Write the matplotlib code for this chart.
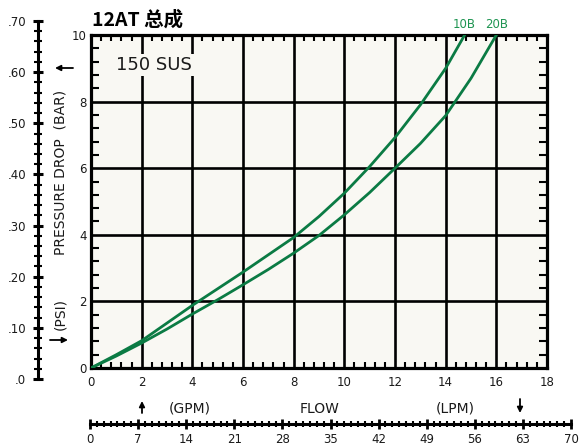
import matplotlib.pyplot as plt
import numpy as np
from matplotlib.ticker import MultipleLocator, FixedLocator, FixedFormatter

# curves: flow (GPM) vs pressure drop (BAR)
flow_10b = [0, 1, 2, 3, 4, 5, 6, 7, 8, 9, 10, 11, 12, 13, 14, 14.75]
drop_10b = [0, 0.4, 0.82, 1.35, 1.88, 2.38, 2.88, 3.4, 3.92, 4.55, 5.25, 6.05,
            6.92, 7.9, 9.0, 10]
flow_20b = [0, 1, 2, 3, 4, 5, 6, 7, 8, 9, 10, 11, 12, 13, 14, 15, 16]
drop_20b = [0, 0.36, 0.75, 1.17, 1.62, 2.05, 2.5, 2.96, 3.45, 3.98, 4.6, 5.27,
            6.0, 6.74, 7.58, 8.7, 10]
curve_names = ["10B", "20B"]

gpm_ticks = list(range(0, 19, 2))
bar_ticks = list(range(0, 11, 2))
psi_ticks = [0, 0.1, 0.2, 0.3, 0.4, 0.5, 0.6, 0.7]
psi_labels = [".0", ".10", ".20", ".30", ".40", ".50", ".60", ".70"]
lpm_ticks = list(range(0, 71, 7))

title = "12AT 总成"
oil = "150 SUS"

W, H = 579, 445
bg = "#f9f8f3"
green = "#0b7b44"
green_lbl = "#1f9552"
ink = "#1a1a1a"
plt.rcParams["font.family"] = ["DejaVu Sans"]


def box(l, t, r, b):
    return [l / W, 1 - b / H, (r - l) / W, (b - t) / H]


fig = plt.figure(figsize=(W / 100, H / 100), dpi=100)

# overlay in pixel coordinates for free-standing labels and arrows
ov = fig.add_axes([0, 0, 1, 1])
ov.set_xlim(0, W)
ov.set_ylim(H, 0)
ov.axis("off")

# -------------------------
# main chart
# -------------------------
ax = fig.add_axes(box(91, 35, 547, 368))
ax.set_facecolor(bg)
ax.set_xlim(gpm_ticks[0], gpm_ticks[-1])
ax.set_ylim(bar_ticks[0], bar_ticks[-1])

for v in gpm_ticks[1:-1]:
    ax.axvline(v, color="black", lw=1.9, zorder=1)
for v in bar_ticks[1:-1]:
    ax.axhline(v, color="black", lw=1.9, zorder=1)

for sp in ax.spines.values():
    sp.set_linewidth(2.3)

ax.xaxis.set_major_locator(FixedLocator(gpm_ticks))
ax.yaxis.set_major_locator(FixedLocator(bar_ticks))
ax.xaxis.set_minor_locator(MultipleLocator(0.4))
ax.yaxis.set_minor_locator(MultipleLocator(0.4))
ax.tick_params(which="major", length=0, labelsize=8.5, labelcolor=ink)
ax.tick_params(axis="x", which="major", pad=6)
ax.tick_params(axis="y", which="major", pad=3)
ax.tick_params(axis="x", which="minor", direction="in", top=True, bottom=True,
               length=4, width=1.5)
ax.tick_params(axis="y", which="minor", direction="in", left=True, right=True,
               length=6, width=1.5)

ax.plot(flow_10b, drop_10b, color=green, lw=2.0, zorder=4)
ax.plot(flow_20b, drop_20b, color=green, lw=2.0, zorder=4)

for name, fx, fy in [(curve_names[0], flow_10b, drop_10b),
                     (curve_names[1], flow_20b, drop_20b)]:
    ax.annotate(name, xy=(fx[-1], fy[-1]), xytext=(0, 3), textcoords="offset points",
                ha="center", va="bottom", color=green_lbl, fontsize=8.5,
                annotation_clip=False)

ax.text(1.0, 9.1, oil, ha="left", va="center", fontsize=13, color=ink, zorder=3,
        bbox=dict(facecolor=bg, edgecolor="none", pad=1.5))

# -------------------------
# PSI scale (left)
# -------------------------
ax_psi = fig.add_axes(box(38, 21, 60, 379))
ax_psi.set_ylim(psi_ticks[0], psi_ticks[-1])
ax_psi.patch.set_visible(False)
for k in ("top", "right", "bottom"):
    ax_psi.spines[k].set_visible(False)
ax_psi.spines["left"].set_linewidth(2.2)
ax_psi.set_xticks([])
ax_psi.yaxis.set_major_locator(FixedLocator(psi_ticks))
ax_psi.yaxis.set_major_formatter(FixedFormatter(psi_labels))
ax_psi.yaxis.set_minor_locator(MultipleLocator(0.02))
ax_psi.tick_params(axis="y", which="major", direction="inout", length=7, width=2.2,
                   pad=5, labelsize=8.5, labelcolor=ink)
ax_psi.tick_params(axis="y", which="minor", direction="inout", length=5.5, width=1.5)

# -------------------------
# LPM scale (bottom)
# -------------------------
ax_lpm = fig.add_axes(box(90, 380, 571, 424))
ax_lpm.set_xlim(lpm_ticks[0], lpm_ticks[-1])
ax_lpm.patch.set_visible(False)
for k in ("top", "right", "left"):
    ax_lpm.spines[k].set_visible(False)
ax_lpm.spines["bottom"].set_linewidth(2.2)
ax_lpm.set_yticks([])
ax_lpm.xaxis.set_major_locator(FixedLocator(lpm_ticks))
ax_lpm.xaxis.set_minor_locator(MultipleLocator(1))
ax_lpm.tick_params(axis="x", which="major", direction="inout", length=6.5, width=2.0,
                   pad=3, labelsize=8.5, labelcolor=ink)
ax_lpm.tick_params(axis="x", which="minor", direction="inout", length=4.5, width=1.5)

# -------------------------
# free labels and arrows
# -------------------------
ov.text(92, 20, title, ha="left", va="center", fontsize=14, fontweight="bold",
        family=["Noto Sans CJK SC", "DejaVu Sans"], color="black")
ov.text(60, 172, "PRESSURE DROP  (BAR)", rotation=90, ha="center", va="center",
        fontsize=10, color=ink)
ov.text(60, 314, "(PSI)", rotation=90, ha="center", va="center", fontsize=10, color=ink)
ov.text(190, 409, "(GPM)", ha="center", va="center", fontsize=10, color=ink)
ov.text(320, 409, "FLOW", ha="center", va="center", fontsize=10, color=ink)
ov.text(455, 409, "(LPM)", ha="center", va="center", fontsize=10, color=ink)

arrow = dict(arrowstyle="-|>", color="black", lw=1.3, mutation_scale=8,
             shrinkA=0, shrinkB=0)
ov.annotate("", xy=(55, 68), xytext=(73, 68), arrowprops=arrow)
ov.annotate("", xy=(68, 340), xytext=(50, 340), arrowprops=arrow)
ov.annotate("", xy=(142, 401), xytext=(142, 413), arrowprops=arrow)
ov.annotate("", xy=(520, 413), xytext=(520, 399), arrowprops=arrow)

fig.savefig("out.png", dpi=100, facecolor="white")
